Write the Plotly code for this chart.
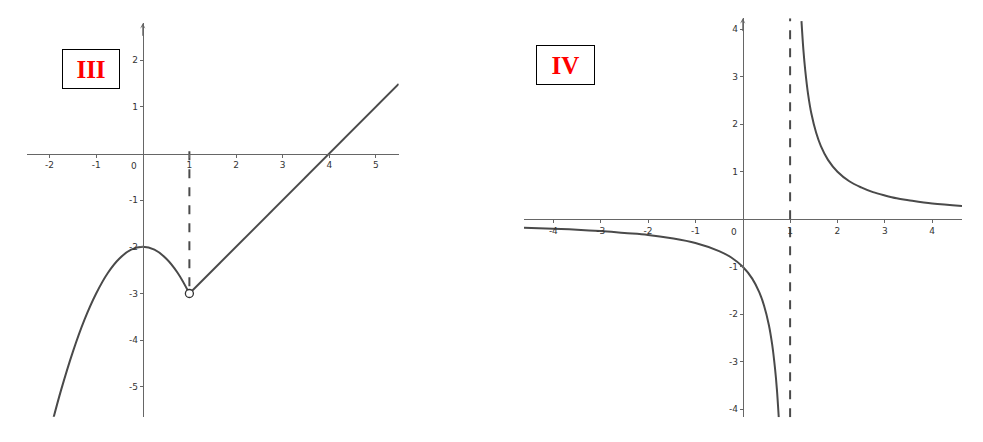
import plotly.graph_objects as go

# panel III: piecewise function
par_x = [-1.93, -1.75, -1.5, -1.25, -1.0, -0.75, -0.5, -0.25, 0.0, 0.25, 0.5, 0.75, 1.0]
par_y = [-5.72, -5.06, -4.25, -3.56, -3.0, -2.56, -2.25, -2.06, -2.0, -2.06, -2.25, -2.56, -3.0]
ray_x = [1.0, 5.49]
ray_y = [-3.0, 1.49]
hole_x = [1.0]
hole_y = [-3.0]
dash3_x = [1.0, 1.0]
dash3_y = [0.05, -3.0]
ticks3_x = [-2, -1, 1, 2, 3, 4, 5]
ticks3_y = [-5, -4, -3, -2, -1, 1, 2]

# panel IV: hyperbola with vertical asymptote x = 1
hyp_lx = [-4.62, -4.0, -3.5, -3.0, -2.5, -2.0, -1.5, -1.0, -0.5, -0.25, 0.0, 0.2, 0.35, 0.45, 0.55, 0.62, 0.68, 0.72, 0.76]
hyp_ly = [-0.18, -0.2, -0.22, -0.25, -0.29, -0.33, -0.4, -0.5, -0.67, -0.8, -1.0, -1.25, -1.54, -1.82, -2.22, -2.63, -3.13, -3.57, -4.17]
hyp_rx = [1.24, 1.28, 1.32, 1.38, 1.45, 1.55, 1.65, 1.8, 2.0, 2.25, 2.5, 2.75, 3.0, 3.25, 3.5, 4.0, 4.63]
hyp_ry = [4.17, 3.57, 3.13, 2.63, 2.22, 1.82, 1.54, 1.25, 1.0, 0.8, 0.67, 0.57, 0.5, 0.44, 0.4, 0.33, 0.28]
dash4_x = [1.0, 1.0]
dash4_y = [-4.17, 4.23]
ticks4_x = [-4, -3, -2, -1, 1, 2, 3, 4]
ticks4_y = [-4, -3, -2, -1, 1, 2, 3, 4]

# the page body adds an 8px margin, so the figure is a bit smaller than the window
W, H, OFF = 975, 434, 8


def px(x):
    return (x - OFF) / W


def py(y):
    return 1 - (y - OFF) / H


curve = dict(color='#4a4a4a', width=2)
dashed = dict(color='#4a4a4a', width=2, dash='dash')

fig = go.Figure()
fig.add_trace(go.Scatter(x=dash3_x, y=dash3_y, mode='lines', line=dashed, xaxis='x', yaxis='y'))
fig.add_trace(go.Scatter(x=par_x, y=par_y, mode='lines', line=curve, line_shape='spline', xaxis='x', yaxis='y'))
fig.add_trace(go.Scatter(x=ray_x, y=ray_y, mode='lines', line=curve, xaxis='x', yaxis='y'))
fig.add_trace(go.Scatter(x=hole_x, y=hole_y, mode='markers', xaxis='x', yaxis='y',
                         marker=dict(size=8, color='white', line=dict(color='#333', width=1.3))))
fig.add_trace(go.Scatter(x=dash4_x, y=dash4_y, mode='lines', line=dashed, xaxis='x2', yaxis='y2'))
fig.add_trace(go.Scatter(x=hyp_lx, y=hyp_ly, mode='lines', line=curve, line_shape='spline', xaxis='x2', yaxis='y2'))
fig.add_trace(go.Scatter(x=hyp_rx, y=hyp_ry, mode='lines', line=curve, line_shape='spline', xaxis='x2', yaxis='y2'))


def zero_pos(dom, rng):
    return dom[0] + (0 - rng[0]) / (rng[1] - rng[0]) * (dom[1] - dom[0])


def axis(dom, rng, other_dom, other_rng, vals):
    return dict(domain=dom, range=rng, anchor='free', position=zero_pos(other_dom, other_rng),
                showgrid=False, zeroline=False, showline=True, linecolor='#666', linewidth=1,
                ticks='outside', ticklen=3, tickcolor='#666',
                tickvals=vals, ticktext=[str(v) for v in vals],
                tickfont=dict(family='DejaVu Sans', size=9, color='#333'), fixedrange=True)


x3_dom, x3_rng = [px(26.7), px(398.7)], [-2.49, 5.49]
y3_dom, y3_rng = [py(416.7), py(23.3)], [-5.64, 2.79]
x4_dom, x4_rng = [px(524), px(962)], [-4.62, 4.63]
y4_dom, y4_rng = [py(417.3), py(18.3)], [-4.17, 4.23]

fig.update_layout(
    width=W, height=H, showlegend=False,
    margin=dict(l=0, r=0, t=0, b=0),
    paper_bgcolor='white', plot_bgcolor='white',
    xaxis=axis(x3_dom, x3_rng, y3_dom, y3_rng, ticks3_x),
    yaxis=axis(y3_dom, y3_rng, x3_dom, x3_rng, ticks3_y),
    xaxis2=axis(x4_dom, x4_rng, y4_dom, y4_rng, ticks4_x),
    yaxis2=axis(y4_dom, y4_rng, x4_dom, x4_rng, ticks4_y),
)

# small arrow heads on top of the y axes
for xr, yr, top in [('x', 'y', y3_rng[1]), ('x2', 'y2', y4_rng[1])]:
    fig.add_annotation(x=0, y=top, ax=0, ay=top - 0.3, xref=xr, yref=yr, axref=xr, ayref=yr,
                       text='', showarrow=True, arrowhead=3, arrowsize=0.9, arrowwidth=1, arrowcolor='#666')

tick0 = dict(family='DejaVu Sans', size=9, color='#333')
fig.add_annotation(x=-0.08, y=-0.12, xref='x', yref='y', text='0', showarrow=False,
                   xanchor='right', yanchor='top', font=tick0)
fig.add_annotation(x=-0.08, y=-0.12, xref='x2', yref='y2', text='0', showarrow=False,
                   xanchor='right', yanchor='top', font=tick0)

label = dict(family='Liberation Serif', size=25, color='red')
fig.add_annotation(x=px(62.3), y=py(49.3), xref='paper', yref='paper', text='<b>III</b>', showarrow=False,
                   font=label, bordercolor='black', borderwidth=1, borderpad=0, width=56, height=38,
                   bgcolor='white')
fig.add_annotation(x=px(565), y=py(45.3), xref='paper', yref='paper', text='<b>IV</b>', showarrow=False,
                   font=label, bordercolor='black', borderwidth=1, borderpad=0, width=57, height=38,
                   bgcolor='white')

fig.write_html("out.html")
